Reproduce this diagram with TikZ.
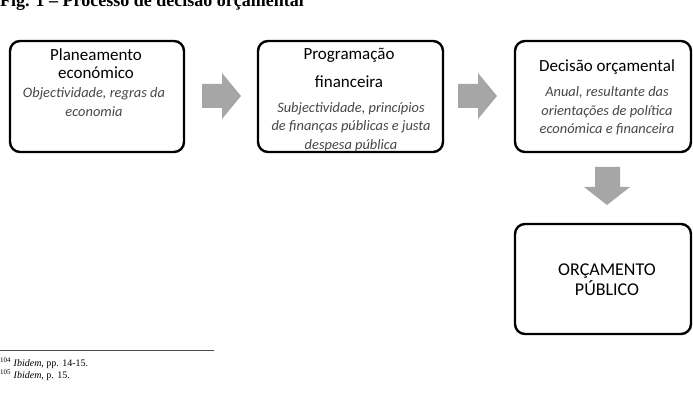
\documentclass[tikz,border=0pt]{standalone}
\usepackage{fontspec}
\setmainfont{Liberation Serif}
\newfontfamily\carlitofont{Carlito}
\begin{document}
\begin{tikzpicture}[x=1pt,y=-1pt,
  box/.style={draw=black,line width=2.4pt,rounded corners=10pt,fill=white},
  head/.style={font=\carlitofont\fontsize{17}{18}\selectfont,text=black,inner sep=0pt,align=center},
  sub/.style={font=\carlitofont\itshape\fontsize{14.4}{18.3}\selectfont,text=black!72,inner sep=0pt,align=center},
  blk/.style={fill=black!35,draw=none},
  fn/.style={font=\fontsize{10}{12}\selectfont,inner sep=0pt,anchor=base west}]
\useasboundingbox (0,0) rectangle (693,403);
\fill[white] (0,0) rectangle (693,403);
% title (cut off as in the reference)
\node[anchor=base west,inner sep=0pt,font=\bfseries\fontsize{18}{20}\selectfont] (title) at (0,7) {Fig. 1 -- Processo de decisão orçamental};
% boxes
\draw[box] (10,41) rectangle (184,152);
\node[inner sep=0pt] (b1) at (97,96) {};
\draw[box] (258,41) rectangle (443,152);
\node[inner sep=0pt] (b2) at (350,96) {};
\draw[box] (515,41) rectangle (691,152);
\node[inner sep=0pt] (b3) at (603,96) {};
\draw[box] (515,224) rectangle (691,334);
\node[inner sep=0pt] (b4) at (603,279) {};
% texts box1
\node[head] (t1) at (96,64) {Planeamento\\económico};
\node[sub] (s1) at (94,102) {Objectividade, regras da\\economia};
% box2
\node[head] (t2a) at (349,55) {Programação};
\node[head] (t2b) at (349,82) {financeira};
\node[sub] (s2) at (351,127) {Subjectividade, princípios\\de finanças públicas e justa\\despesa pública};
% box3
\node[head] (t3) at (607,67) {Decisão orçamental};
\node[sub] (s3) at (607,111) {Anual, resultante das\\orientações de política\\económica e financeira};
% box4
\node[head,font=\carlitofont\fontsize{18}{20}\selectfont] (t4) at (607,280) {ORÇAMENTO\\PÚBLICO};
% block arrows
\fill[blk] (202,84) -- (222,84) -- (222,73) -- (241,96) -- (222,119) -- (222,108) -- (202,108) -- cycle;
\fill[blk] (458,84) -- (478,84) -- (478,73) -- (497,96) -- (478,119) -- (478,108) -- (458,108) -- cycle;
\fill[blk] (595,167) -- (620,167) -- (620,187) -- (630,187) -- (607,205) -- (584,187) -- (595,187) -- cycle;
% footnotes
\draw[black!70,line width=0.8pt] (0,350) -- (214,350);
\node[fn] (f1) at (0,366) {\textsuperscript{104} \textit{Ibidem}, pp. 14-15.};
\node[fn] (f2) at (0,378) {\textsuperscript{105} \textit{Ibidem}, p. 15.};
\end{tikzpicture}
\end{document}
